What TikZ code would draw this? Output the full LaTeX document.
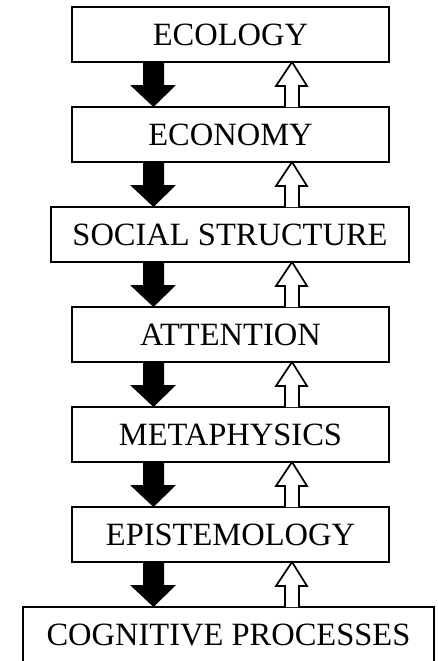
\documentclass[tikz,border=0pt]{standalone}
\usepackage{fontspec}
\setmainfont{Liberation Serif}
\usetikzlibrary{calc}

\tikzset{
  layer/.style={draw, rectangle, line width=1.8pt, minimum height=55pt,
    inner sep=0pt, outer sep=0pt, font=\fontsize{32.5}{39}\selectfont},
  downflow/.style={fill=black},
  upflow/.style={draw=black, fill=white, line width=1.7pt, line join=miter},
}

\begin{document}
\begin{tikzpicture}[x=1pt, y=-1pt]
    % Define dimensions
    \def\downX{143}  % left edge of black shaft
    \def\upX{285}    % left edge of white shaft
    \useasboundingbox (0,0) rectangle (438,661);

    %Drawing the layers
    \foreach \name/\txt/\boxw/\cx [count=\i] in {
        eco/ECOLOGY/317/230.5,
        econ/ECONOMY/317/230.5,
        soc/SOCIAL STRUCTURE/358/230,
        att/ATTENTION/317/230.5,
        meta/METAPHYSICS/317/230.5,
        epi/EPISTEMOLOGY/317/230.5,
        cog/COGNITIVE PROCESSES/411/228.5}
        \node[layer, minimum width=\boxw pt] (\name) at (\cx, {34.5+100*(\i-1)}) {\txt};

    %Arrows between layers
    \foreach \upper/\lower in {eco/econ, econ/soc, soc/att, att/meta, meta/epi, epi/cog} {
        % downward (black)
        \fill[downflow] (\upper.south -| \downX,0) -- ++(21,0) -- ++(0,23) -- ++(12,0)
            -- (\lower.north -| 153.5,0) -- ++(-23.5,-22) -- ++(13,0) -- cycle;
        % upward (white)
        \draw[upflow] (\lower.north -| \upX,0) -- ++(0,-21) -- ++(-9,0)
            -- (\upper.south -| 292,0) -- ++(15,24) -- ++(-8,0) -- ++(0,21);
    }
\end{tikzpicture}
\end{document}
